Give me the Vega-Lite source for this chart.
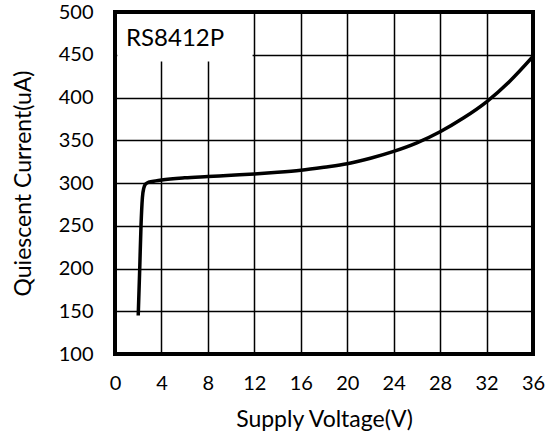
{
  "$schema": "https://vega.github.io/schema/vega-lite/v6.json",
  "width": 418,
  "height": 342,
  "autosize": {"type": "none"},
  "padding": {"left": 115, "top": 12, "right": 19, "bottom": 81},
  "background": "white",
  "config": {
    "font": "Lato",
    "view": {"stroke": "black", "strokeWidth": 4},
    "axis": {
      "grid": true,
      "gridColor": "black",
      "gridWidth": 1.5,
      "gridOpacity": 1,
      "domain": false,
      "ticks": false,
      "labelFlush": false,
      "labelFont": "Lato",
      "labelFontSize": 20,
      "labelColor": "black",
      "titleFont": "Lato",
      "titleFontSize": 23,
      "titleFontWeight": "normal",
      "titleColor": "black"
    }
  },
  "datasets": {
    "curve": [
      {"v": 2.0, "i": 145},
      {"v": 2.13, "i": 200},
      {"v": 2.24, "i": 250},
      {"v": 2.36, "i": 283},
      {"v": 2.48, "i": 294},
      {"v": 2.65, "i": 299},
      {"v": 2.9, "i": 301},
      {"v": 3.5, "i": 302.5},
      {"v": 4, "i": 303.5},
      {"v": 6, "i": 306},
      {"v": 8, "i": 307.5},
      {"v": 10, "i": 309},
      {"v": 12, "i": 310.5},
      {"v": 14, "i": 312.5},
      {"v": 16, "i": 315},
      {"v": 18, "i": 318.5},
      {"v": 20, "i": 322.5},
      {"v": 22, "i": 329},
      {"v": 24, "i": 337},
      {"v": 26, "i": 347},
      {"v": 28, "i": 360},
      {"v": 30, "i": 376},
      {"v": 32, "i": 395},
      {"v": 34, "i": 419},
      {"v": 36, "i": 448}
    ],
    "box": [{"x0": 0.2, "x1": 11.85, "y0": 442, "y1": 497.6, "tx": 0.95, "ty": 469, "label": "RS8412P"}]
  },
  "layer": [
    {
      "data": {"name": "curve"},
      "mark": {"type": "line", "color": "black", "strokeWidth": 3.5, "interpolate": "monotone", "clip": true},
      "encoding": {
        "x": {
          "field": "v", "type": "quantitative",
          "scale": {"domain": [0, 36], "nice": false},
          "axis": {"values": [0, 4, 8, 12, 16, 20, 24, 28, 32, 36], "title": "Supply Voltage(V)", "labelPadding": 19, "titlePadding": 15}
        },
        "y": {
          "field": "i", "type": "quantitative",
          "scale": {"domain": [100, 500], "nice": false, "zero": false},
          "axis": {"values": [100, 150, 200, 250, 300, 350, 400, 450, 500], "title": "Quiescent Current(uA)", "labelPadding": 22, "titlePadding": 23}
        },
        "order": {"field": "v", "type": "quantitative"}
      }
    },
    {
      "data": {"name": "box"},
      "mark": {"type": "rect", "fill": "white", "stroke": null},
      "encoding": {
        "x": {"field": "x0", "type": "quantitative"},
        "x2": {"field": "x1"},
        "y": {"field": "y0", "type": "quantitative"},
        "y2": {"field": "y1"}
      }
    },
    {
      "data": {"name": "box"},
      "mark": {"type": "text", "align": "left", "baseline": "middle", "fontSize": 24, "font": "Lato", "color": "black"},
      "encoding": {
        "x": {"field": "tx", "type": "quantitative"},
        "y": {"field": "ty", "type": "quantitative"},
        "text": {"field": "label"}
      }
    }
  ]
}
